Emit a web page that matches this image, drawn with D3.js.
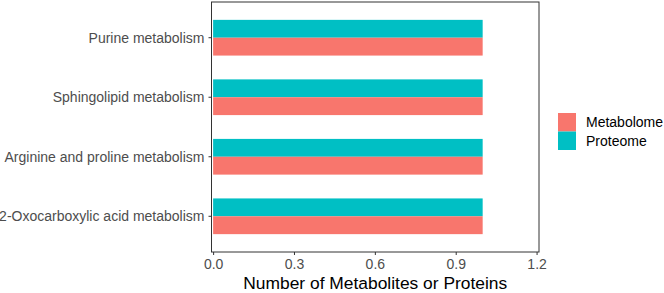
<!DOCTYPE html>
<html>
<head>
<meta charset="utf-8">
<script src="https://cdn.jsdelivr.net/npm/d3@7.9.0/dist/d3.min.js"></script>
<style>
  body { margin: 0; background: #fff; }
  text { font-family: "Liberation Sans", Arial, sans-serif; }
</style>
</head>
<body>
<svg width="664" height="293"></svg>
<script>
// pathways, bottom to top as drawn
const pathways = [
  '2-Oxocarboxylic acid metabolism',
  'Arginine and proline metabolism',
  'Sphingolipid metabolism',
  'Purine metabolism'
];
const series = ['Metabolome', 'Proteome'];
const metabolome = [1, 1, 1, 1];
const proteome = [1, 1, 1, 1];
const xTicks = [0, 0.3, 0.6, 0.9, 1.2];
const colors = { Metabolome: '#F8766D', Proteome: '#00BFC4' };

const svg = d3.select('svg');
const panel = { left: 211.5, right: 539, top: 2, bottom: 252 };

const x = d3.scaleLinear()
  .domain([-0.006, 1.209])
  .range([panel.left, panel.right]);

// categorical positions with ggplot-like 0.6 additive expansion
const y = d3.scaleLinear()
  .domain([0.4, pathways.length + 0.6])
  .range([panel.bottom, panel.top]);

const barH = (y(0) - y(0.6)) / 2;

const rows = pathways.map((p, i) => ({ p, i, Metabolome: metabolome[i], Proteome: proteome[i] }));

const g = svg.append('g');

rows.forEach(r => {
  const cy = y(r.i + 1);
  // Proteome on top, Metabolome below
  g.append('rect')
    .attr('x', x(0)).attr('y', cy - barH)
    .attr('width', x(r.Proteome) - x(0)).attr('height', barH)
    .attr('fill', colors.Proteome);
  g.append('rect')
    .attr('x', x(0)).attr('y', cy)
    .attr('width', x(r.Metabolome) - x(0)).attr('height', barH)
    .attr('fill', colors.Metabolome);
});

// panel border
svg.append('rect')
  .attr('x', panel.left).attr('y', panel.top)
  .attr('width', panel.right - panel.left).attr('height', panel.bottom - panel.top)
  .attr('fill', 'none').attr('stroke', '#333').attr('stroke-width', 1);

// y axis
const yAxis = svg.append('g');
pathways.forEach((p, i) => {
  const cy = y(i + 1);
  yAxis.append('line')
    .attr('x1', panel.left - 3).attr('x2', panel.left)
    .attr('y1', cy).attr('y2', cy)
    .attr('stroke', '#333');
  yAxis.append('text')
    .attr('x', panel.left - 7).attr('y', cy)
    .attr('dy', '0.35em')
    .attr('text-anchor', 'end')
    .attr('font-size', 14)
    .attr('fill', '#4d4d4d')
    .text(p);
});

// x axis
const xAxis = svg.append('g')
  .attr('transform', `translate(0,${panel.bottom})`)
  .call(d3.axisBottom(x).tickValues(xTicks).tickFormat(d3.format('.1f')).tickSize(3).tickPadding(4));
xAxis.select('.domain').remove();
xAxis.selectAll('line').attr('stroke', '#333');
xAxis.selectAll('text')
  .attr('font-size', 14)
  .attr('fill', '#4d4d4d')
  .style('font-family', '"Liberation Sans", Arial, sans-serif');

svg.append('text')
  .attr('x', (panel.left + panel.right) / 2)
  .attr('y', 289)
  .attr('text-anchor', 'middle')
  .attr('font-size', 17.4)
  .attr('fill', '#000')
  .text('Number of Metabolites or Proteins');

// legend
const legend = svg.append('g').attr('transform', 'translate(558,113)');
series.forEach((s, i) => {
  legend.append('rect')
    .attr('x', 0).attr('y', i * 18.5)
    .attr('width', 18).attr('height', 18.5)
    .attr('fill', colors[s]);
  legend.append('text')
    .attr('x', 28).attr('y', i * 18.5 + 9.25)
    .attr('dy', '0.35em')
    .attr('font-size', 14)
    .attr('fill', '#000')
    .text(s);
});
</script>
</body>
</html>
